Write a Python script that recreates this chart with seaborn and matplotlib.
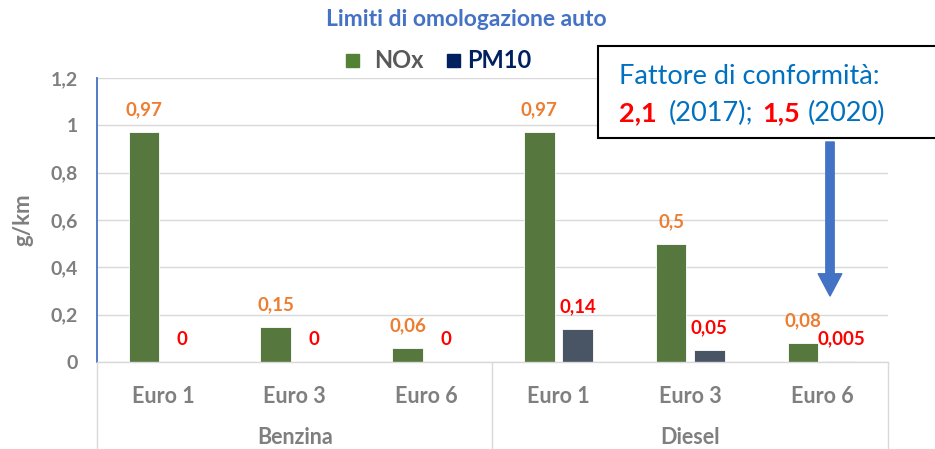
import matplotlib
matplotlib.use("Agg")
import matplotlib.pyplot as plt
from matplotlib.patches import Rectangle
from matplotlib.lines import Line2D
from matplotlib.text import Annotation
import seaborn as sns
import pandas as pd

# dati del grafico
gruppi = ["Benzina", "Benzina", "Benzina", "Diesel", "Diesel", "Diesel"]
classi = ["Euro 1", "Euro 3", "Euro 6", "Euro 1", "Euro 3", "Euro 6"]
nox = [0.97, 0.15, 0.06, 0.97, 0.5, 0.08]
pm10 = [0, 0, 0, 0.14, 0.05, 0.005]
yticks = [0, 0.2, 0.4, 0.6, 0.8, 1, 1.2]

chiavi = [g + " " + c for g, c in zip(gruppi, classi)]
df = pd.DataFrame({
    "cat": chiavi * 2,
    "serie": ["NOx"] * 6 + ["PM10"] * 6,
    "valore": nox + pm10,
})

sns.set_style("white")
plt.rcParams["font.family"] = ["Lato", "DejaVu Sans"]

W, H = 935, 449
fig = plt.figure(figsize=(W / 100, H / 100), dpi=100)
ax = fig.add_axes([97 / W, 1 - 362 / H, (888 - 97) / W, (362 - 78) / H])

verde = "#548235"
blu_barre = "#44546A"
sns.barplot(data=df, x="cat", y="valore", hue="serie", order=chiavi,
            palette={"NOx": verde, "PM10": blu_barre}, width=0.58, gap=0.2,
            edgecolor="white", linewidth=0.6, legend=False, ax=ax)

grigio = "#7F7F7F"
ax.set_xlim(-0.5, 5.5)
ax.set_ylim(0, 1.2)
ax.set_yticks(yticks)
ax.set_yticklabels([f"{v:g}".replace(".", ",") for v in yticks],
                   fontsize=14, fontweight="bold", color=grigio)
ax.yaxis.grid(True, color="#D9D9D9", linewidth=1)
ax.set_axisbelow(True)
ax.tick_params(axis="y", length=0, pad=14)
ax.tick_params(axis="x", length=0, pad=17)
ax.set_xticks(range(6))
ax.set_xticklabels(classi, fontsize=15.5, fontweight="bold", color=grigio)
ax.set_xlabel("")
ax.set_ylabel("g/km", fontsize=16, fontweight="bold", color=grigio, labelpad=12)

for s in ["top", "right"]:
    ax.spines[s].set_visible(False)
ax.spines["left"].set_color("#4472C4")
ax.spines["left"].set_linewidth(1.3)
ax.spines["bottom"].set_color("#D9D9D9")
ax.spines["bottom"].set_linewidth(1)

# separatori e nomi dei gruppi sotto l'asse
tr = ax.get_xaxis_transform()
for xs in [-0.5, 2.5, 5.5]:
    ax.add_line(Line2D([xs, xs], [0, -87 / 284], transform=tr,
                       color="#D9D9D9", linewidth=1, clip_on=False))
for xg, nome in [(1, "Benzina"), (4, "Diesel")]:
    ax.text(xg, -76 / 284, nome, transform=tr, ha="center", va="center",
            fontsize=15.5, fontweight="bold", color=grigio)

# etichette dati
for cont, vals, col in [(ax.containers[0], nox, "#ED7D31"),
                        (ax.containers[1], pm10, "#FF0000")]:
    for bar, v in zip(cont, vals):
        ax.annotate(f"{v:g}".replace(".", ","),
                    (bar.get_x() + bar.get_width() / 2, v),
                    xytext=(0, 16), textcoords="offset points",
                    ha="center", va="center", fontsize=13.5,
                    fontweight="bold", color=col)

# titolo e legenda
fig.text(466 / W, 1 - 19 / H, "Limiti di omologazione auto", ha="center",
         va="center", fontsize=16.5, fontweight="bold", color="#4472C4")
fig.patches.append(Rectangle((346 / W, 1 - 67 / H), 13 / W, 13 / H,
                             transform=fig.transFigure, color=verde))
fig.text(374 / W, 1 - 60 / H, "NOx", va="center", fontsize=17,
         fontweight="bold", color="#595959")
fig.patches.append(Rectangle((447 / W, 1 - 67 / H), 13 / W, 13 / H,
                             transform=fig.transFigure, color="#002060"))
fig.text(467 / W, 1 - 60 / H, "PM10", va="center", fontsize=17,
         fontweight="bold", color="#002060")

# riquadro fattore di conformità
fig.patches.append(Rectangle((598 / W, 1 - 138 / H), 345 / W, 92 / H,
                             transform=fig.transFigure, facecolor="white",
                             edgecolor="black", linewidth=1.5, zorder=5))
fig.text(619 / W, 1 - 77 / H, "Fattore di conformità:", va="center",
         fontsize=19.5, color="#0070C0", zorder=6)
for xp, testo, col, peso in [(619, "2,1", "#FF0000", "bold"),
                             (669, "(2017);", "#0070C0", "normal"),
                             (762, "1,5", "#FF0000", "bold"),
                             (808, "(2020)", "#0070C0", "normal")]:
    fig.text(xp / W, 1 - 113 / H, testo, va="center", fontsize=19.5,
             color=col, fontweight=peso, zorder=6)

# freccia
fig.add_artist(Annotation(
    "", xy=(830 / W, 1 - 296 / H), xytext=(830 / W, 1 - 142 / H),
    xycoords="figure fraction", textcoords="figure fraction",
    arrowprops=dict(facecolor="#4472C4", edgecolor="#4472C4", width=6,
                    headwidth=17, headlength=16, shrink=0)))

fig.savefig("out.png", dpi=100)
